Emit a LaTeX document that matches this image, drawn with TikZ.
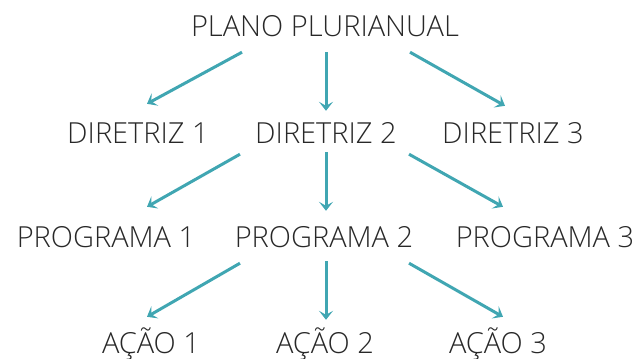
\documentclass[tikz,border=0pt]{standalone}
\usepackage{fontspec}
\IfFontExistsTF{Open Sans Light}{\setmainfont{Open Sans Light}}{\setmainfont{Open Sans}}
\usetikzlibrary{arrows.meta}
\definecolor{seta}{RGB}{64,166,178}
\definecolor{texto}{RGB}{40,40,40}
\tikzset{
  item/.style={anchor=base, text=texto, font=\fontsize{29}{35}\selectfont,
    text height=20pt, text depth=0pt, inner xsep=0pt, inner ysep=16pt},
  seta/.style={draw=seta, line width=3pt,
    -{Stealth[length=9pt,width=14pt,inset=4pt]}}
}
\begin{document}
\begin{tikzpicture}[x=1pt,y=-1pt]
    \useasboundingbox (0,0) rectangle (638,359);
    \node[item] at (325,36) (pp) {PLANO PLURIANUAL};
    \node[item] at (138,143) (d1) {DIRETRIZ 1};
    \node[item] at (326,143) (d2) {DIRETRIZ 2};
    \node[item] at (513,143) (d3) {DIRETRIZ 3};
    \node[item] at (106,247) (p1) {PROGRAMA 1};
    \node[item] at (324,247) (p2) {PROGRAMA 2};
    \node[item] at (545,247) (p3) {PROGRAMA 3};
    \node[item] at (151,353) (a1) {AÇÃO 1};
    \node[item] at (325,353) (a2) {AÇÃO 2};
    \node[item] at (498,353) (a3) {AÇÃO 3};
    \draw[seta] ([xshift=-83pt]pp.south) -- ([xshift=9pt,yshift=3pt]d1.north);
    \draw[seta] ([xshift=1pt]pp.south) -- ([yshift=-4pt]d2.north);
    \draw[seta] ([xshift=85pt]pp.south) -- ([xshift=-8pt,yshift=1pt]d3.north);
    \draw[seta] ([xshift=-86pt,yshift=5pt]d2.south) -- ([xshift=41pt,yshift=4pt]p1.north);
    \draw[seta] ([yshift=7pt]d2.south) -- (p2.north -| d2.south);
    \draw[seta] ([xshift=83pt,yshift=5pt]d2.south) -- ([xshift=-42pt,yshift=4pt]p3.north);
    \draw[seta] ([xshift=-84pt]p2.south) -- ([xshift=-4pt]a1.north);
    \draw[seta] ([xshift=2pt,yshift=2pt]p2.south) -- ([xshift=1pt,yshift=-3pt]a2.north);
    \draw[seta] ([xshift=85pt]p2.south) -- ([xshift=5pt]a3.north);
\end{tikzpicture}
\end{document}
